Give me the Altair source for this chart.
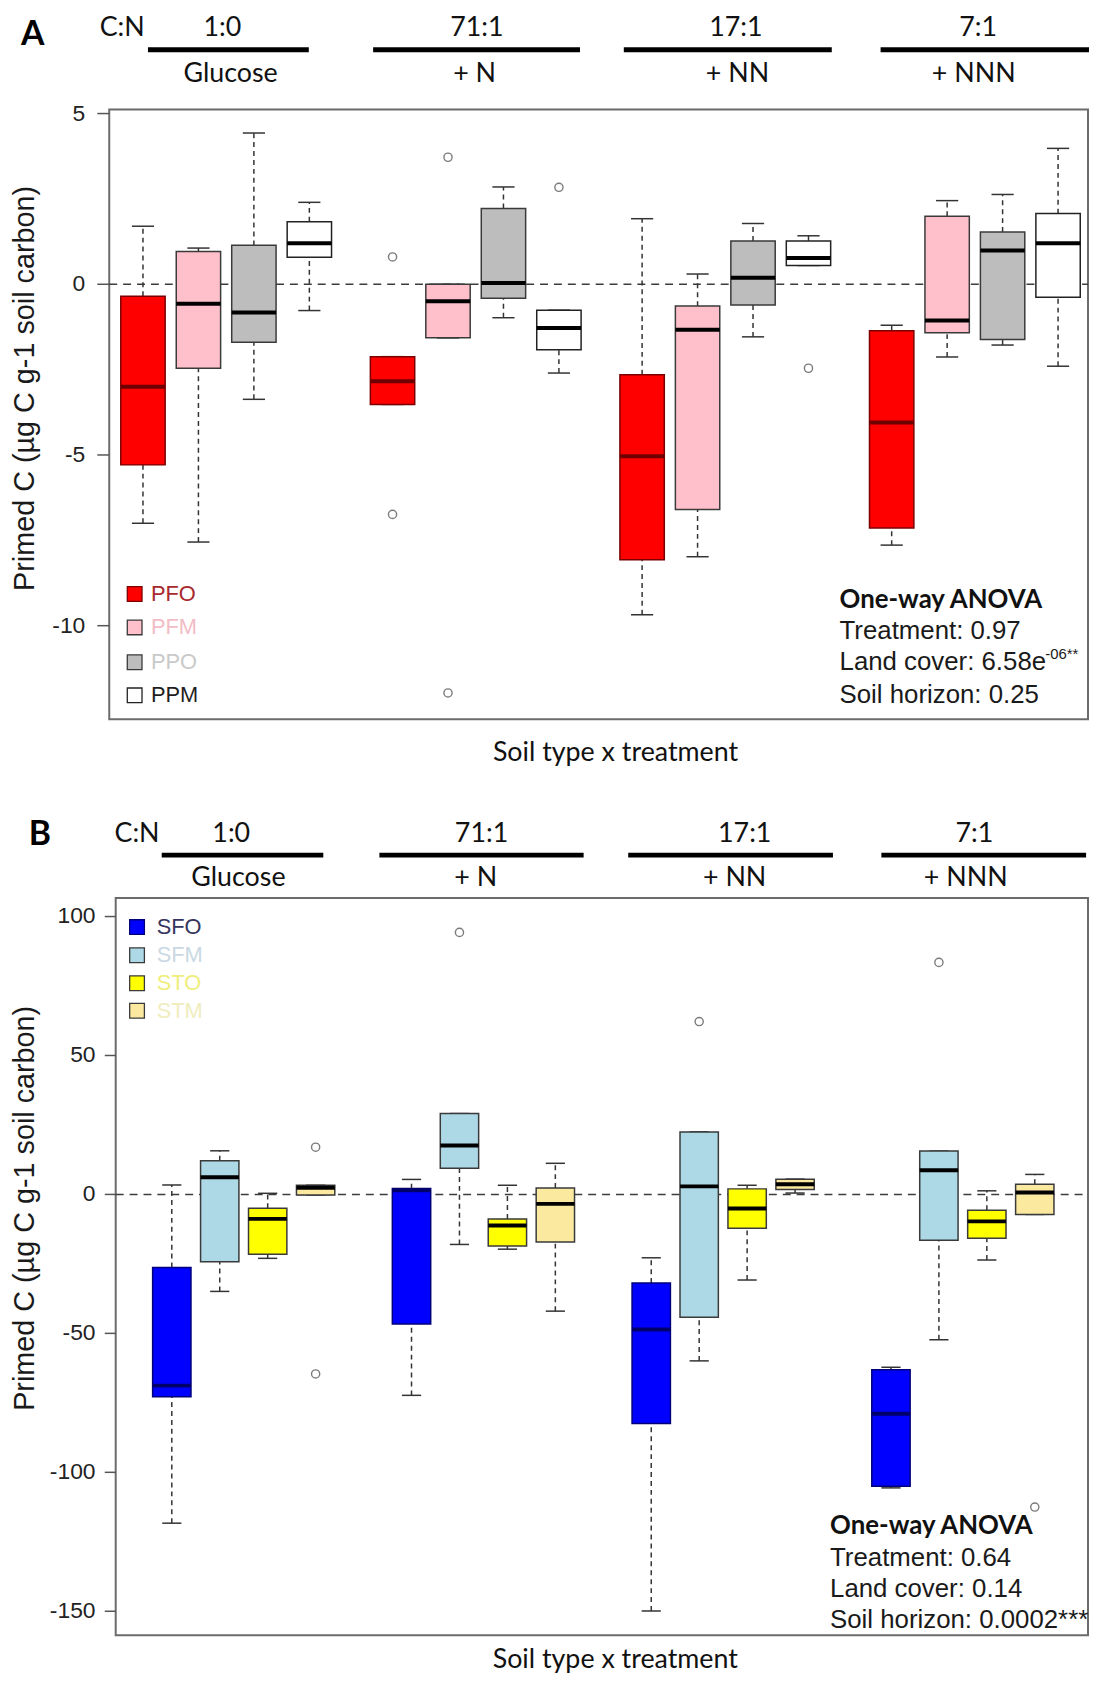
import altair as alt
import pandas as pd

# ---------------- data ----------------
treatments = ["Glucose", "+ N", "+ NN", "+ NNN"]
cn_ratios = ["1:0", "71:1", "17:1", "7:1"]

# Panel A (order inside each treatment: PFO, PFM, PPO, PPM)
soils_a = ["PFO", "PFM", "PPO", "PPM"]
a_lower  = [-7.00, -7.55, -3.37, -0.77,  -3.52, -1.57, -0.98, -2.60,  -9.68, -7.98, -1.54, 0.55,  -7.64, -2.13, -1.78, -2.40]
a_q1     = [-5.29, -2.46, -1.70,  0.79,  -3.52, -1.57, -0.41, -1.92,  -8.07, -6.60, -0.61, 0.55,  -7.14, -1.42, -1.62, -0.38]
a_median = [-3.00, -0.57, -0.83,  1.20,  -2.84, -0.50,  0.04, -1.28,  -5.04, -1.33,  0.19, 0.77,  -4.05, -1.06,  0.99,  1.20]
a_q3     = [-0.35,  0.96,  1.14,  1.83,  -2.12,  0.00,  2.22, -0.76,  -2.65, -0.64,  1.27, 1.27,  -1.36,  1.99,  1.53,  2.07]
a_upper  = [ 1.70,  1.06,  4.43,  2.40,  -2.12,  0.00,  2.85, -0.76,   1.92,  0.30,  1.78, 1.42,  -1.20,  2.45,  2.63,  3.98]
a_out_box = [4, 4, 5, 5, 7, 11]
a_out_val = [0.80, -6.74, 3.72, -11.97, 2.84, -2.46]
a_ticks = [5, 0, -5, -10]
a_anova_title = "One-way ANOVA"
a_anova_lines = ["Treatment: 0.97", "Land cover: 6.58e", "Soil horizon: 0.25"]
a_anova_sup = "-06**"

# Panel B (order inside each treatment: SFO, SFM, STO, STM)
soils_b = ["SFO", "SFM", "STO", "STM"]
b_lower  = [-118.3, -34.9, -23.0, -0.2,  -72.3, -18.0, -19.7, -42.0,  -149.9, -59.9, -30.8, 0.5,  -105.6, -52.3, -23.6, -7.2]
b_q1     = [ -72.8, -24.2, -21.5, -0.2,  -46.6,   9.4, -18.6, -17.1,   -82.4, -44.2, -12.2, 1.8,  -105.0, -16.5, -15.8, -7.2]
b_median = [ -68.8,   6.2,  -8.8,  2.4,    1.5,  17.6, -11.2,  -3.4,   -48.6,   2.9,  -5.1, 3.7,   -78.9,   8.7,  -9.7,  0.7]
b_q3     = [ -26.3,  12.1,  -5.0,  3.3,    2.1,  29.1,  -8.8,   2.3,   -31.9,  22.5,   2.0, 5.5,   -63.1,  15.6,  -5.7,  3.7]
b_upper  = [   3.4,  15.7,   0.4,  3.3,    5.4,  29.1,   3.3,  11.2,   -22.8,  22.5,   3.3, 5.5,   -62.2,  15.6,   1.3,  7.2]
b_out_box = [3, 3, 5, 9, 13, 15]
b_out_val = [17.0, -64.6, 94.3, 62.2, 83.5, -112.5]
b_ticks = [100, 50, 0, -50, -100, -150]
b_anova_title = "One-way ANOVA"
b_anova_lines = ["Treatment: 0.64", "Land cover: 0.14", "Soil horizon: 0.0002***"]

y_title = "Primed C (\u00b5g C g-1 soil carbon)"
x_title = "Soil type x treatment"

# ---------------- styles / layout ----------------
cfg_a = dict(
    letter="A", soils=soils_a,
    lower=a_lower, q1=a_q1, med=a_median, q3=a_q3, upper=a_upper,
    out_box=a_out_box, out_val=a_out_val, ticks=a_ticks,
    anova_title=a_anova_title, anova_lines=a_anova_lines, anova_sup=a_anova_sup,
    stride=4.5, xdom=[0.392, 18.04], xrange=[102, 1088],
    ydom=[-12.74, 5.12], yrange=[710.3, 96],
    tick_x0=0.177, label_x=-0.04,
    fills=["#ff0000", "#ffc0cb", "#bdbdbd", "#ffffff"],
    edges=["#7a0000", "#3a3a3a", "#3a3a3a", "#222222"],
    meds=["#6e0000", "#000000", "#000000", "#000000"],
    legcols=["#a8282d", "#f2bcc6", "#c9c9c9", "#1e1e1e"],
    letter_xy=(-0.99, 7.3), cn_xy=(0.626, 7.49),
    ratio_x=[2.43, 7.02, 11.69, 16.06], ratio_y=7.49,
    treat_x=[2.58, 6.98, 11.72, 15.98], treat_y=6.15,
    line_x0=[1.09, 5.15, 9.67, 14.3], line_x1=[3.99, 8.88, 13.42, 18.06], line_y=6.87,
    leg_sq_x=0.85, leg_tx_x=1.144, leg_y=[-9.07, -10.05, -11.07, -12.04],
    anova_x=13.56, anova_y=[-9.24, -10.17, -11.07, -12.03],
    sup_xy=(17.27, -10.84),
    xtitle_xy=(9.52, -13.72), ytitle_xy=(-1.12, -3.05),
)

cfg_b = dict(
    letter="B", soils=soils_b,
    lower=b_lower, q1=b_q1, med=b_median, q3=b_q3, upper=b_upper,
    out_box=b_out_box, out_val=b_out_val, ticks=b_ticks,
    anova_title=b_anova_title, anova_lines=b_anova_lines, anova_sup="",
    stride=5, xdom=[-0.17, 20.11], xrange=[108.5, 1088],
    ydom=[-158.6, 106.7], yrange=[1633, 890.3],
    tick_x0=-0.398, label_x=-0.59,
    fills=["#0000ff", "#add8e6", "#ffff00", "#fbe9a0"],
    edges=["#00007a", "#3a3a3a", "#3a3a3a", "#3a3a3a"],
    meds=["#00006b", "#000000", "#000000", "#000000"],
    legcols=["#34345e", "#c9d8e3", "#eeee7a", "#efedbd"],
    letter_xy=(-1.75, 129.3), cn_xy=(0.275, 129.6),
    ratio_x=[2.24, 7.46, 12.95, 17.74], ratio_y=129.6,
    treat_x=[2.39, 7.34, 12.74, 17.56], treat_y=113.9,
    line_x0=[0.79, 5.33, 10.52, 15.8], line_x1=[4.16, 9.59, 14.79, 20.07], line_y=122.1,
    leg_sq_x=0.275, leg_tx_x=0.685, leg_y=[96.2, 86.1, 76.0, 66.1],
    anova_x=14.73, anova_y=[-119.4, -130.8, -141.9, -153.3],
    sup_xy=None,
    xtitle_xy=(10.25, -167.6), ytitle_xy=(-2.06, -5.0),
)


def build_panel(c):
    xs = alt.Scale(domain=c["xdom"], range=c["xrange"], nice=False, zero=False)
    ys = alt.Scale(domain=c["ydom"], range=c["yrange"], nice=False, zero=False)

    def X(f):
        return alt.X(f, type="quantitative", scale=xs, axis=None)

    def Y(f):
        return alt.Y(f, type="quantitative", scale=ys, axis=None)

    rows = []
    for i in range(16):
        g, s = divmod(i, 4)
        pos = g * c["stride"] + s + 1
        rows.append(dict(pos=pos, lo=pos - 0.4, hi=pos + 0.4, clo=pos - 0.2, chi=pos + 0.2,
                         lower=c["lower"][i], q1=c["q1"][i], med=c["med"][i],
                         q3=c["q3"][i], upper=c["upper"][i],
                         fill=c["fills"][s], edge=c["edges"][s], medc=c["meds"][s]))
    df = pd.DataFrame(rows)

    out_df = pd.DataFrame({
        "pos": [df["pos"][b] for b in c["out_box"]],
        "val": c["out_val"],
    })

    frame_df = pd.DataFrame({"x0": [c["xdom"][0]], "x1": [c["xdom"][1]],
                             "y0": [c["ydom"][0]], "y1": [c["ydom"][1]], "zero": [0]})

    frame = alt.Chart(frame_df).mark_rect(fillOpacity=0, stroke="#6b6b6b", strokeWidth=2).encode(
        x=X("x0"), x2="x1", y=Y("y0"), y2="y1")

    # y axis ticks and labels, drawn through the panel's y scale
    tick_df = pd.DataFrame({"v": c["ticks"], "lab": [str(v) for v in c["ticks"]],
                            "t0": [c["tick_x0"]] * len(c["ticks"]),
                            "t1": [c["xdom"][0]] * len(c["ticks"]),
                            "lx": [c["label_x"]] * len(c["ticks"])})
    ticks = alt.Chart(tick_df).mark_rule(color="#555555", strokeWidth=1.5).encode(
        x=X("t0"), x2="t1", y=Y("v"))
    tlabels = alt.Chart(tick_df).mark_text(align="right", baseline="middle",
                                           font="Liberation Sans", fontSize=23,
                                           color="#222222").encode(
        x=X("lx"), y=Y("v"), text="lab:N")

    zero = alt.Chart(frame_df).mark_rule(strokeDash=[8, 6], color="#3c3c3c", strokeWidth=1.5).encode(
        x=X("x0"), x2="x1", y=Y("zero"))

    base = alt.Chart(df)
    w_lo = base.mark_rule(strokeDash=[5, 4], color="#333333", strokeWidth=1.5).encode(
        x=X("pos"), y=Y("lower"), y2="q1")
    w_hi = base.mark_rule(strokeDash=[5, 4], color="#333333", strokeWidth=1.5).encode(
        x=X("pos"), y=Y("q3"), y2="upper")
    cap_lo = base.mark_rule(color="#333333", strokeWidth=1.5).encode(
        x=X("clo"), x2="chi", y=Y("lower"))
    cap_hi = base.mark_rule(color="#333333", strokeWidth=1.5).encode(
        x=X("clo"), x2="chi", y=Y("upper"))
    box = base.mark_rect(strokeWidth=1.5).encode(
        x=X("lo"), x2="hi", y=Y("q1"), y2="q3",
        fill=alt.Fill("fill:N", scale=None), stroke=alt.Stroke("edge:N", scale=None))
    med = base.mark_rule(strokeWidth=4).encode(
        x=X("lo"), x2="hi", y=Y("med"), color=alt.Color("medc:N", scale=None))
    outl = alt.Chart(out_df).mark_point(shape="circle", filled=False, size=68,
                                        color="#444444", strokeWidth=1.4).encode(
        x=X("pos"), y=Y("val"))

    leg_df = pd.DataFrame({"sx": [c["leg_sq_x"]] * 4, "tx": [c["leg_tx_x"]] * 4,
                           "y": c["leg_y"], "name": c["soils"], "fill": c["fills"],
                           "edge": c["edges"], "tcol": c["legcols"]})
    leg_sq = alt.Chart(leg_df).mark_square(size=220, strokeWidth=1.3, opacity=1).encode(
        x=X("sx"), y=Y("y"), fill=alt.Fill("fill:N", scale=None),
        stroke=alt.Stroke("edge:N", scale=None))
    leg_tx = alt.Chart(leg_df).mark_text(align="left", baseline="middle",
                                         font="Liberation Sans", fontSize=22).encode(
        x=X("tx"), y=Y("y"), text="name:N", color=alt.Color("tcol:N", scale=None))

    def text_layer(xs_, ys_, texts, **kw):
        d = pd.DataFrame({"x": xs_, "y": ys_, "text": texts})
        return alt.Chart(d).mark_text(baseline="middle", **kw).encode(
            x=X("x"), y=Y("y"), text="text:N")

    header_top = text_layer([c["cn_xy"][0]] + c["ratio_x"],
                            [c["cn_xy"][1]] + [c["ratio_y"]] * 4,
                            ["C:N"] + cn_ratios,
                            align="center", font="Lato", fontSize=27, color="#111111")
    header_bot = text_layer(c["treat_x"], [c["treat_y"]] * 4, treatments,
                            align="center", font="Lato", fontSize=27, color="#111111")
    line_df = pd.DataFrame({"x0": c["line_x0"], "x1": c["line_x1"], "y": [c["line_y"]] * 4})
    hlines = alt.Chart(line_df).mark_rule(color="#000000", strokeWidth=5).encode(
        x=X("x0"), x2="x1", y=Y("y"))
    letter = text_layer([c["letter_xy"][0]], [c["letter_xy"][1]], [c["letter"]],
                        align="center", font="Lato", fontWeight="bold", fontSize=34,
                        color="#000000")
    anova_t = text_layer([c["anova_x"]], [c["anova_y"][0]], [c["anova_title"]],
                         align="left", font="Lato", fontWeight="bold", fontSize=26,
                         color="#111111")
    anova_l = text_layer([c["anova_x"]] * 3, c["anova_y"][1:], c["anova_lines"],
                         align="left", font="Liberation Sans", fontSize=26,
                         color="#1a1a1a")
    xtitle = text_layer([c["xtitle_xy"][0]], [c["xtitle_xy"][1]], [x_title],
                        align="center", font="Lato", fontSize=27, color="#111111")
    ytitle = text_layer([c["ytitle_xy"][0]], [c["ytitle_xy"][1]], [y_title],
                        align="center", font="Liberation Sans", fontSize=29, angle=270,
                        color="#1a1a1a")

    layers = [frame, ticks, tlabels, zero, w_lo, w_hi, cap_lo, cap_hi, box, med, outl,
              leg_sq, leg_tx, header_top, header_bot, hlines, letter, anova_t, anova_l,
              xtitle, ytitle]
    if c["sup_xy"] is not None:
        layers.append(text_layer([c["sup_xy"][0]], [c["sup_xy"][1]], [c["anova_sup"]],
                                 align="left", font="Liberation Sans", fontSize=15,
                                 color="#1a1a1a"))
    return alt.layer(*layers)


panel_a = build_panel(cfg_a)
panel_b = build_panel(cfg_b)

chart = alt.layer(panel_a, panel_b).resolve_scale(
    x="independent", y="independent"
).properties(
    width=1089, height=1677, padding=0,
    autosize=alt.AutoSizeParams(type="none"), background="white"
).configure_view(strokeWidth=0)

chart.save("out.html", embed_options={"renderer": "svg", "actions": False})
